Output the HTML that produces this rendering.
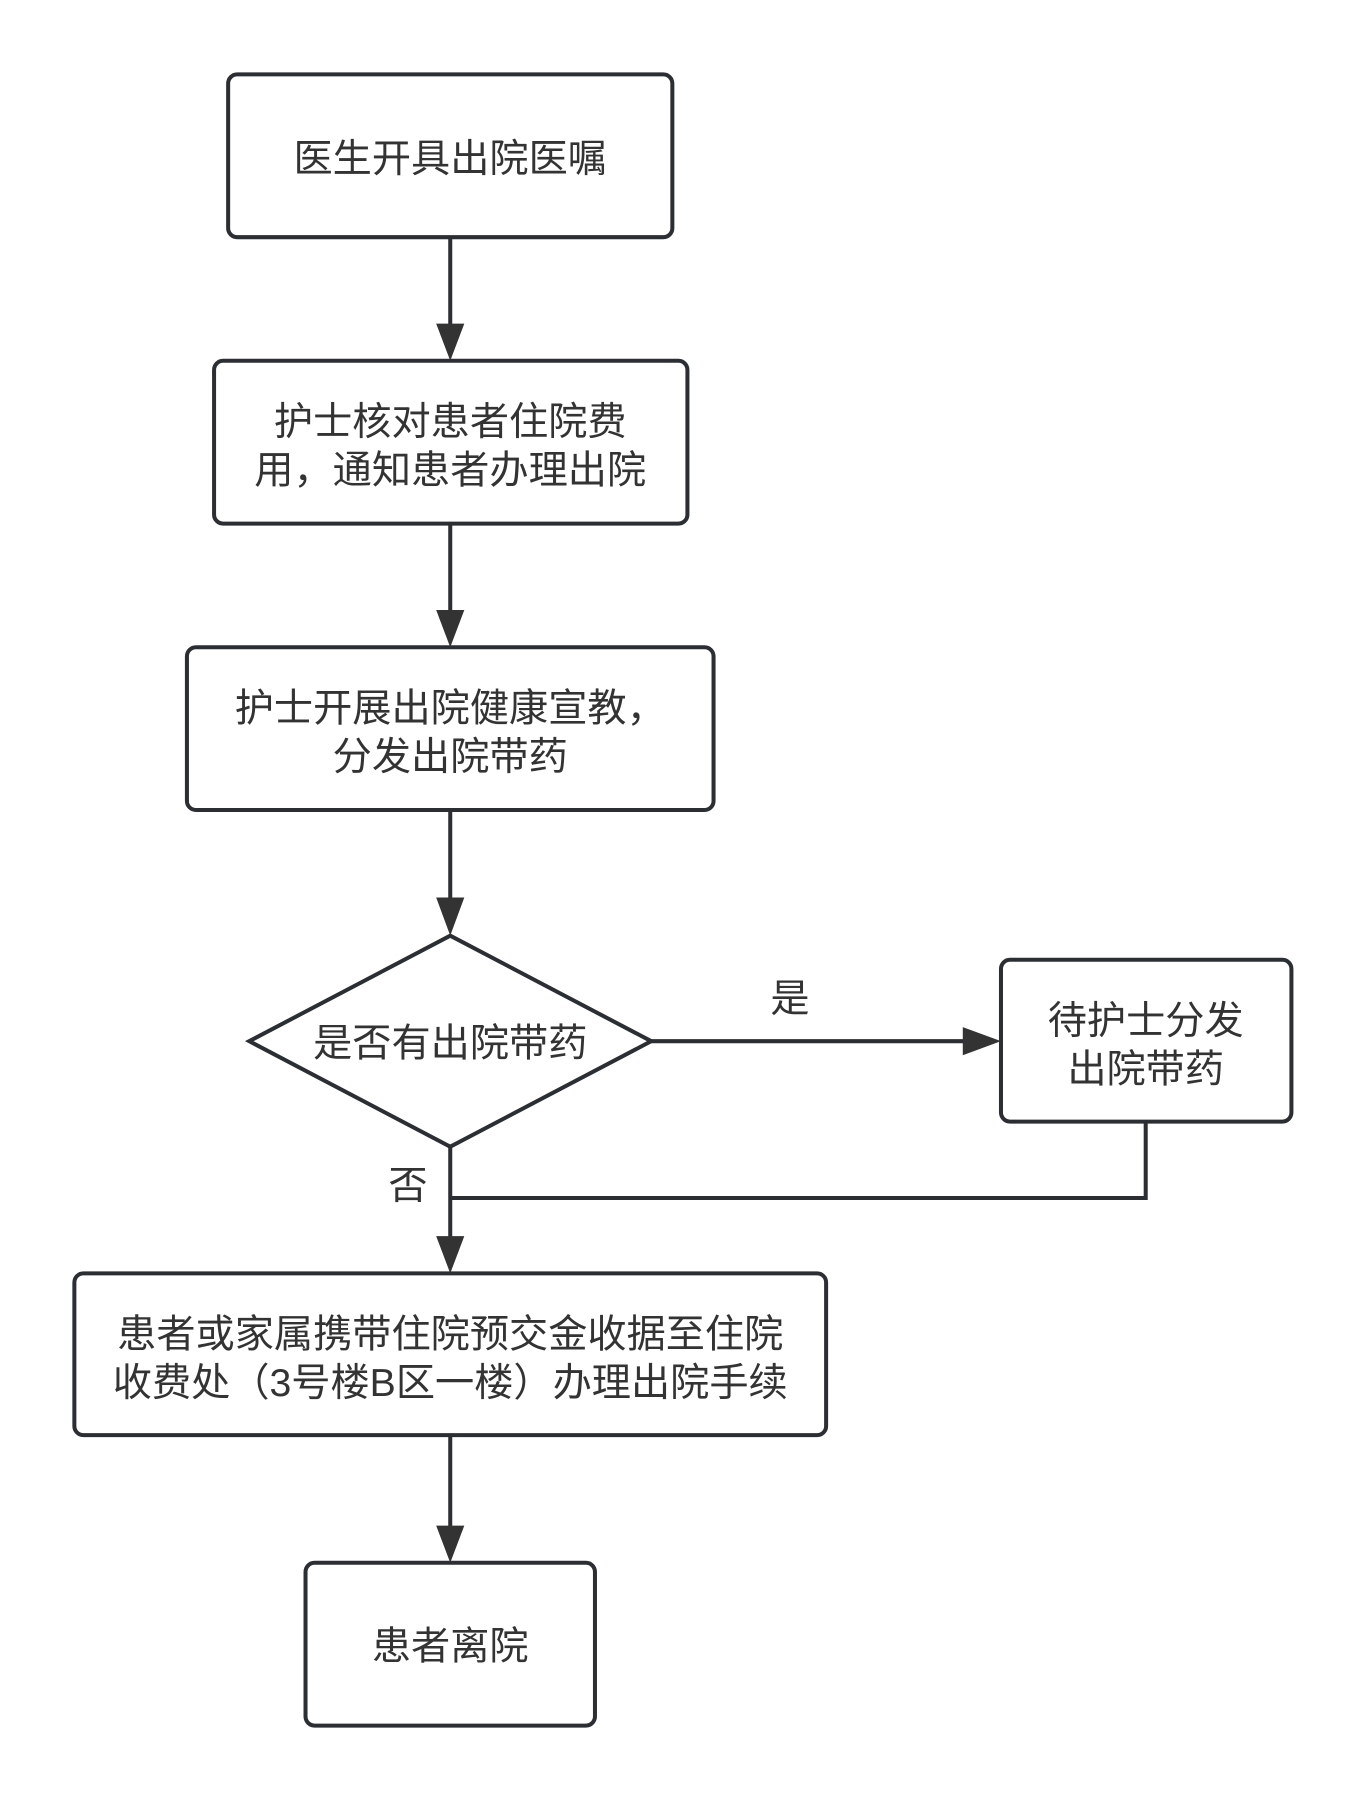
<!DOCTYPE html>
<html><head><meta charset="utf-8"><style>
html,body{margin:0;padding:0;background:#fff;}
svg text{font-family:"Liberation Sans","Noto Sans CJK SC",sans-serif;font-size:39px;fill:#333;text-anchor:middle;}
</style></head><body>
<svg width="1360" height="1794" viewBox="0 0 1360 1794" xmlns="http://www.w3.org/2000/svg">
<g transform="translate(0,-1) scale(1.005)">
<g fill="none" stroke="#2b2f33" stroke-width="4">
<rect x="227" y="75" width="442" height="162" rx="9"/>
<rect x="213" y="360" width="471" height="162" rx="9"/>
<rect x="186" y="645" width="524" height="162" rx="9"/>
<polygon points="248,1037 448,932 648,1037 448,1142"/>
<rect x="996" y="956" width="289" height="161" rx="9"/>
<rect x="74" y="1268" width="748" height="161" rx="9"/>
<rect x="304" y="1556" width="288" height="162" rx="9"/>
<line x1="448" y1="237" x2="448" y2="330"/>
<line x1="448" y1="522" x2="448" y2="615"/>
<line x1="448" y1="807" x2="448" y2="900"/>
<line x1="448" y1="1142" x2="448" y2="1238"/>
<line x1="648" y1="1037" x2="962" y2="1037"/>
<polyline points="1140,1117 1140,1193 448,1193"/>
<line x1="448" y1="1429" x2="448" y2="1522"/>
</g>
<g fill="#333">
<polygon points="434,323 462,323 448,360"/>
<polygon points="434,608 462,608 448,645"/>
<polygon points="434,894 462,894 448,932"/>
<polygon points="434,1231 462,1231 448,1268"/>
<polygon points="958,1023 958,1051 996,1037"/>
<polygon points="434,1519 462,1519 448,1556"/>
</g>
<text x="448" y="172">医生开具出院医嘱</text>
<text x="448" y="434">护士核对患者住院费</text>
<text x="448" y="482">用，通知患者办理出院</text>
<text x="448" y="719">护士开展出院健康宣教，</text>
<text x="448" y="767">分发出院带药</text>
<text x="448" y="1052">是否有出院带药</text>
<text x="1140" y="1030">待护士分发</text>
<text x="1140" y="1078">出院带药</text>
<text x="786" y="1008">是</text>
<text x="406" y="1194">否</text>
<text x="448" y="1342">患者或家属携带住院预交金收据至住院</text>
<text x="448" y="1390">收费处（3号楼B区一楼）办理出院手续</text>
<text x="448" y="1652">患者离院</text>
</g>
</svg>
</body></html>
